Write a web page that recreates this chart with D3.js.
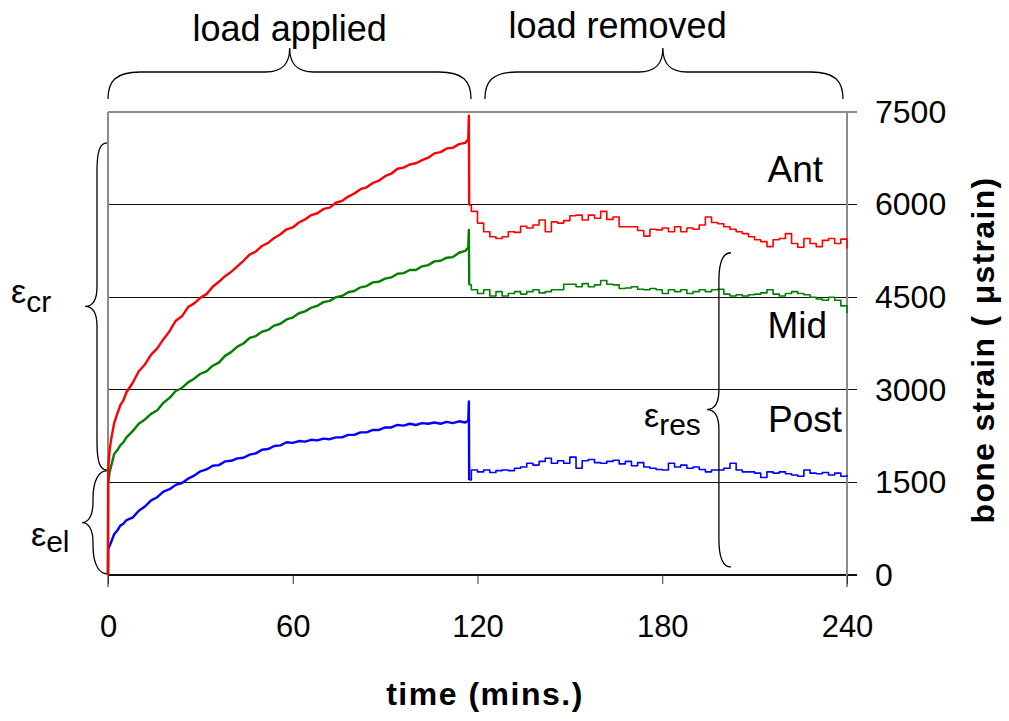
<!DOCTYPE html>
<meta charset="utf-8">
<title>Bone strain - load applied / removed</title>
<style>

body {
  margin: 0;
  background: #fff;
}

text {
  font-family: "Liberation Sans", Arial, sans-serif;
  fill: #000;
}

.grid line {
  stroke: #111;
  stroke-width: 1.2;
  shape-rendering: crispEdges;
}

.frame {
  stroke: #8c8c8c;
  stroke-width: 2;
  shape-rendering: crispEdges;
}

.brace {
  fill: none;
  stroke: #000;
  stroke-width: 1.3;
}

.trace {
  fill: none;
  stroke-linejoin: round;
}

</style>
<body>

<script src="https://d3js.org/d3.v7.min.js"></script>
<script>

// time (mins) while the load is on, then after it is taken off
var loadMins = [0, 0.05, 0.5, 1, 2, 3, 4, 5, 6,
  8, 10, 12, 14, 16, 18, 20, 22, 24, 26, 28, 30, 32, 34, 36, 38, 40, 42, 44, 46, 48,
  50, 52, 54, 56, 58, 60, 62, 64, 66, 68, 70, 72, 74, 76, 78, 80, 82, 84, 86, 88,
  90, 92, 94, 96, 98, 100, 102, 104, 106, 108, 110, 112, 114, 116,
  117, 117.2, 117.3];

var recoveryMins = [117.3,
  118, 120, 122, 124, 126, 128, 130, 132, 134, 136, 138, 140, 142, 144, 146, 148,
  150, 152, 154, 156, 158, 160, 162, 164, 166, 168, 170, 172, 174, 176, 178, 180,
  182, 184, 186, 188, 190, 192, 194, 196, 198, 200, 202, 204, 206, 208, 210, 212,
  214, 216, 218, 220, 222, 224, 226, 228, 230, 232, 234, 236, 238, 240];

// bone strain (microstrain)
var antLoad = [0, 1700, 2010, 2190, 2460, 2610, 2750, 2830, 2960,
  3110, 3300, 3410, 3570, 3670, 3820, 3950, 4120, 4190, 4340, 4400, 4490, 4550, 4670, 4750, 4840, 4910, 5000, 5090, 5190, 5240,
  5330, 5380, 5460, 5520, 5600, 5630, 5710, 5760, 5830, 5860, 5930, 5950, 6030, 6060, 6130, 6180, 6250, 6280, 6350, 6390,
  6460, 6500, 6580, 6600, 6650, 6670, 6720, 6760, 6830, 6850, 6910, 6920, 6980, 7000,
  7060, 7440, 5990];

var midLoad = [0, 1480, 1660, 1760, 1960, 2020, 2100, 2150, 2230,
  2330, 2450, 2520, 2610, 2670, 2790, 2870, 2980, 3030, 3120, 3180, 3260, 3300, 3390, 3440, 3550, 3610, 3700, 3750, 3840, 3870,
  3940, 3970, 4040, 4070, 4140, 4170, 4240, 4270, 4330, 4360, 4420, 4440, 4500, 4520, 4580, 4600, 4660, 4680, 4740, 4750,
  4800, 4820, 4880, 4890, 4940, 4940, 5000, 5020, 5080, 5090, 5140, 5150, 5220, 5250,
  5310, 5590, 4700];

var postLoad = [0, 420, 470, 530, 660, 720, 800, 830, 890,
  930, 1040, 1110, 1210, 1260, 1350, 1390, 1460, 1490, 1560, 1610, 1680, 1710, 1770, 1780, 1840, 1850, 1890, 1900, 1950, 1970,
  2030, 2040, 2090, 2100, 2150, 2140, 2170, 2160, 2190, 2180, 2210, 2200, 2230, 2230, 2270, 2270, 2310, 2310, 2350, 2350,
  2390, 2390, 2430, 2420, 2450, 2430, 2460, 2450, 2470, 2450, 2480, 2460, 2490, 2470,
  2500, 2810, 1540];

var antRecovery = [5990,
  5890, 5700, 5560, 5480, 5450, 5480, 5560, 5550, 5650, 5620, 5670, 5750, 5560, 5720, 5700, 5740,
  5820, 5830, 5750, 5830, 5780, 5890, 5760, 5800, 5640, 5640, 5640, 5580, 5490, 5600, 5590, 5620,
  5560, 5640, 5560, 5620, 5600, 5670, 5800, 5710, 5690, 5640, 5600, 5560, 5530, 5480, 5430, 5400,
  5320, 5430, 5450, 5530, 5370, 5310, 5450, 5370, 5320, 5420, 5450, 5370, 5440, 5290];

var midRecovery = [4700,
  4620, 4560, 4620, 4520, 4590, 4520, 4560, 4590, 4550, 4590, 4620, 4570, 4590, 4620, 4620, 4710,
  4710, 4670, 4720, 4670, 4700, 4770, 4710, 4700, 4640, 4650, 4670, 4630, 4620, 4640, 4620, 4560,
  4620, 4590, 4620, 4560, 4590, 4620, 4590, 4620, 4630, 4550, 4520, 4540, 4520, 4540, 4550, 4570,
  4620, 4550, 4520, 4560, 4590, 4560, 4540, 4500, 4470, 4450, 4500, 4450, 4360, 4240];

var postRecovery = [1540,
  1700, 1670, 1700, 1660, 1690, 1700, 1690, 1730, 1750, 1810, 1780, 1840, 1890, 1810, 1850, 1810,
  1910, 1730, 1850, 1870, 1820, 1810, 1840, 1860, 1800, 1840, 1770, 1820, 1750, 1730, 1710, 1700,
  1810, 1750, 1780, 1730, 1750, 1710, 1670, 1700, 1700, 1730, 1810, 1700, 1670, 1670, 1650, 1580,
  1670, 1650, 1670, 1640, 1620, 1600, 1700, 1650, 1640, 1660, 1620, 1650, 1600, 1620];

var strainTicks = [0, 1500, 3000, 4500, 6000, 7500];
var timeTicks = [0, 60, 120, 180, 240];

var sites = ["Ant", "Mid", "Post"];
var siteColors = ["#ff0000", "#008000", "#0000ff"];

// set the dimensions of the page
var width = 1009,
    height = 721;

var svg = d3.select("body").append("svg")
    .attr("width", width)
    .attr("height", height);

// scales
var x = d3.scaleLinear().domain([0, 240]).range([108, 847]);
var y = d3.scaleLinear().domain([0, 7500]).range([575, 112]);

// horizontal grid lines, run a little past the right axis
svg.append("g")
    .attr("class", "grid")
  .selectAll("line")
    .data(strainTicks.filter(function(d) { return d < 7500; }))
  .enter().append("line")
    .attr("x1", x(0))
    .attr("x2", x(240) + 10)
    .attr("y1", function(d) { return y(d); })
    .attr("y2", function(d) { return y(d); });

// top edge and the two vertical axis lines (grey)
svg.append("line").attr("class", "frame")
    .attr("x1", x(0)).attr("x2", x(240) + 10)
    .attr("y1", y(7500)).attr("y2", y(7500));
svg.append("line").attr("class", "frame")
    .attr("x1", x(0)).attr("x2", x(0))
    .attr("y1", y(7500)).attr("y2", y(0) + 12);
svg.append("line").attr("class", "frame")
    .attr("x1", x(240)).attr("x2", x(240))
    .attr("y1", y(7500)).attr("y2", y(0) + 12);

// x axis ticks and labels
var xAxis = svg.append("g")
    .attr("transform", "translate(0," + y(0) + ")")
    .call(d3.axisBottom(x).tickValues(timeTicks).tickFormat(d3.format("d"))
      .tickSize(9).tickPadding(31));
xAxis.select(".domain").remove();
xAxis.selectAll("line").attr("stroke", "#333");
xAxis.selectAll("text")
    .style("font-size", "31px")
    .style("font-family", "'Liberation Sans', Arial, sans-serif");

// y axis labels on the right
var yAxis = svg.append("g")
    .attr("transform", "translate(" + x(240) + ",0)")
    .call(d3.axisRight(y).tickValues(strainTicks).tickFormat(d3.format("d"))
      .tickSize(0).tickPadding(28));
yAxis.select(".domain").remove();
yAxis.selectAll("text")
    .style("font-size", "32px")
    .style("font-family", "'Liberation Sans', Arial, sans-serif");

// axis titles
svg.append("text")
    .attr("x", 485)
    .attr("y", 705)
    .attr("text-anchor", "middle")
    .style("font-size", "32px")
    .style("font-weight", "bold")
    .style("letter-spacing", "1.5px")
    .text("time (mins.)");

svg.append("text")
    .attr("transform", "translate(994,350) rotate(-90)")
    .attr("text-anchor", "middle")
    .style("font-size", "32px")
    .style("font-weight", "bold")
    .style("letter-spacing", "1.3px")
    .text("bone strain ( \u03bcstrain)");

// the traces: load phase as a line, recovery as steps
var loadLine = d3.line()
    .x(function(d) { return x(d[0]); })
    .y(function(d) { return y(d[1]); });

var recoveryLine = d3.line()
    .curve(d3.curveStepAfter)
    .x(function(d) { return x(d[0]); })
    .y(function(d) { return y(d[1]); });

var loadSeries = [postLoad, midLoad, antLoad];
var recoverySeries = [postRecovery, midRecovery, antRecovery];
var drawColors = [siteColors[2], siteColors[1], siteColors[0]];

loadSeries.forEach(function(vals, i) {
  svg.append("path")
      .attr("class", "trace")
      .attr("d", loadLine(d3.zip(loadMins, vals)))
      .attr("stroke", drawColors[i])
      .attr("stroke-width", 2.4);
  svg.append("path")
      .attr("class", "trace")
      .attr("d", recoveryLine(d3.zip(recoveryMins, recoverySeries[i])))
      .attr("stroke", drawColors[i])
      .attr("stroke-width", 1.6);
});

// site labels
var labelAt = [[823, 182], [827, 338], [842, 432]];
sites.forEach(function(s, i) {
  svg.append("text")
      .attr("x", labelAt[i][0])
      .attr("y", labelAt[i][1])
      .attr("text-anchor", "end")
      .style("font-size", "37px")
      .text(s);
});

// curly braces
function hBrace(x1, x2, xm, yEnd, yFlat, yTip) {
  return "M" + x1 + "," + yEnd +
    "C" + x1 + "," + (yEnd - 18) + " " + (x1 + 8) + "," + yFlat + " " + (x1 + 32) + "," + yFlat +
    "L" + (xm - 24) + "," + yFlat +
    "C" + (xm - 7) + "," + yFlat + " " + xm + "," + (yFlat - 8) + " " + xm + "," + yTip +
    "C" + xm + "," + (yFlat - 8) + " " + (xm + 7) + "," + yFlat + " " + (xm + 24) + "," + yFlat +
    "L" + (x2 - 32) + "," + yFlat +
    "C" + (x2 - 8) + "," + yFlat + " " + x2 + "," + (yEnd - 18) + " " + x2 + "," + yEnd;
}

function vBrace(yTop, yBot, ym, xEnd, xFlat, xTip) {
  return "M" + xEnd + "," + yTop +
    "C" + (xEnd - 7) + "," + yTop + " " + xFlat + "," + (yTop + 8) + " " + xFlat + "," + (yTop + 28) +
    "L" + xFlat + "," + (ym - 20) +
    "C" + xFlat + "," + (ym - 6) + " " + (xFlat - 5) + "," + ym + " " + xTip + "," + ym +
    "C" + (xFlat - 5) + "," + ym + " " + xFlat + "," + (ym + 6) + " " + xFlat + "," + (ym + 20) +
    "L" + xFlat + "," + (yBot - 28) +
    "C" + xFlat + "," + (yBot - 8) + " " + (xEnd - 7) + "," + yBot + " " + xEnd + "," + yBot;
}

svg.append("path").attr("class", "brace")
    .attr("d", hBrace(x(0), x(117.9), x(59), 99, 72, 48));
svg.append("path").attr("class", "brace")
    .attr("d", hBrace(x(122.4), x(238.7), x(180.2), 99, 72, 48));

svg.append("path").attr("class", "brace")
    .attr("d", vBrace(y(7000), y(1700), y(4350), x(0) - 1, x(0) - 11, x(0) - 23));
svg.append("path").attr("class", "brace")
    .attr("d", vBrace(y(1690), y(20), y(850), x(0) - 1, x(0) - 15, x(0) - 26));
svg.append("path").attr("class", "brace")
    .attr("d", vBrace(y(5220), y(130), y(2680), x(202.3), x(198.4), x(194.5)));

// brace titles
svg.append("text")
    .attr("x", x(59))
    .attr("y", 41)
    .attr("text-anchor", "middle")
    .style("font-size", "36px")
    .text("load applied");
svg.append("text")
    .attr("x", x(165.5))
    .attr("y", 38)
    .attr("text-anchor", "middle")
    .style("font-size", "36px")
    .text("load removed");

// strain component labels (epsilon with subscript)
function epsLabel(px, py, sub, drop) {
  var t = svg.append("text")
      .attr("x", px)
      .attr("y", py);
  t.append("tspan")
      .style("font-size", "34px")
      .text("\u03b5");
  t.append("tspan")
      .attr("dy", drop)
      .style("font-size", "30px")
      .text(sub);
}

epsLabel(11, 303, "cr", 9);
epsLabel(31, 546, "el", 6);
epsLabel(644, 427, "res", 8);

</script>

</body>
